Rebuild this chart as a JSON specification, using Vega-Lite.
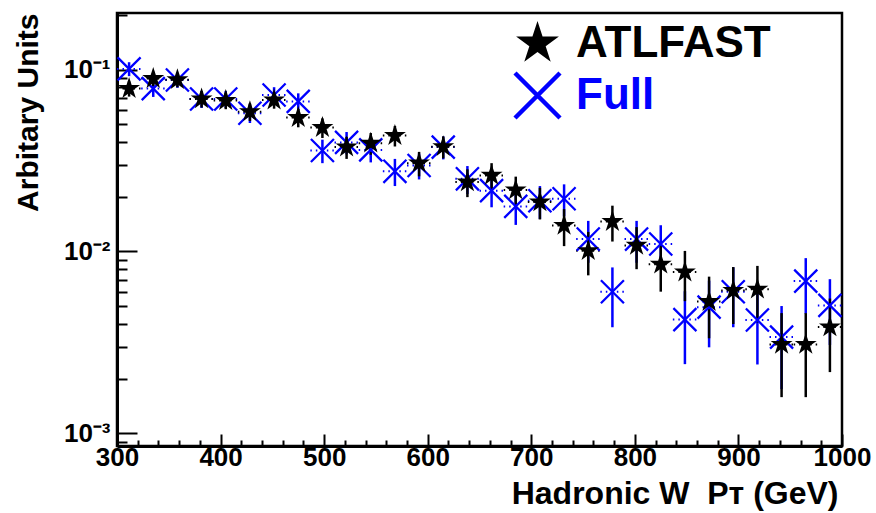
{
  "$schema": "https://vega.github.io/schema/vega-lite/v6.json",
  "width": 725,
  "height": 433,
  "autosize": {"type": "none"},
  "padding": {"left": 117, "top": 13, "right": 34, "bottom": 67},
  "background": "white",
  "config": {
    "font": "Liberation Sans",
    "view": {"stroke": "#000000", "strokeWidth": 2.5}
  },
  "data": {
    "values": [
      {"series": "Full", "pt": 311.67, "pt_lo": 300, "pt_hi": 323.33, "val": 0.101, "val_lo": 0.0921, "val_hi": 0.1099},
      {"series": "Full", "pt": 335, "pt_lo": 323.33, "pt_hi": 346.67, "val": 0.0787, "val_lo": 0.0708, "val_hi": 0.0866},
      {"series": "Full", "pt": 358.33, "pt_lo": 346.67, "pt_hi": 370, "val": 0.0878, "val_lo": 0.0795, "val_hi": 0.0961},
      {"series": "Full", "pt": 381.67, "pt_lo": 370, "pt_hi": 393.33, "val": 0.069, "val_lo": 0.0616, "val_hi": 0.0764},
      {"series": "Full", "pt": 405, "pt_lo": 393.33, "pt_hi": 416.67, "val": 0.069, "val_lo": 0.0616, "val_hi": 0.0764},
      {"series": "Full", "pt": 428.33, "pt_lo": 416.67, "pt_hi": 440, "val": 0.0576, "val_lo": 0.0509, "val_hi": 0.0643},
      {"series": "Full", "pt": 451.67, "pt_lo": 440, "pt_hi": 463.33, "val": 0.0726, "val_lo": 0.0651, "val_hi": 0.0801},
      {"series": "Full", "pt": 475, "pt_lo": 463.33, "pt_hi": 486.67, "val": 0.0669, "val_lo": 0.0597, "val_hi": 0.0741},
      {"series": "Full", "pt": 498.33, "pt_lo": 486.67, "pt_hi": 510, "val": 0.0359, "val_lo": 0.0306, "val_hi": 0.0412},
      {"series": "Full", "pt": 521.67, "pt_lo": 510, "pt_hi": 533.33, "val": 0.0398, "val_lo": 0.0342, "val_hi": 0.0454},
      {"series": "Full", "pt": 545, "pt_lo": 533.33, "pt_hi": 556.67, "val": 0.0362, "val_lo": 0.0309, "val_hi": 0.0415},
      {"series": "Full", "pt": 568.33, "pt_lo": 556.67, "pt_hi": 580, "val": 0.0276, "val_lo": 0.0229, "val_hi": 0.0323},
      {"series": "Full", "pt": 591.67, "pt_lo": 580, "pt_hi": 603.33, "val": 0.0297, "val_lo": 0.0249, "val_hi": 0.0345},
      {"series": "Full", "pt": 615, "pt_lo": 603.33, "pt_hi": 626.67, "val": 0.0375, "val_lo": 0.0321, "val_hi": 0.0429},
      {"series": "Full", "pt": 638.33, "pt_lo": 626.67, "pt_hi": 650, "val": 0.0251, "val_lo": 0.0207, "val_hi": 0.0295},
      {"series": "Full", "pt": 661.67, "pt_lo": 650, "pt_hi": 673.33, "val": 0.0216, "val_lo": 0.0175, "val_hi": 0.0257},
      {"series": "Full", "pt": 685, "pt_lo": 673.33, "pt_hi": 696.67, "val": 0.0177, "val_lo": 0.014, "val_hi": 0.0214},
      {"series": "Full", "pt": 708.33, "pt_lo": 696.67, "pt_hi": 720, "val": 0.019, "val_lo": 0.0151, "val_hi": 0.0229},
      {"series": "Full", "pt": 731.67, "pt_lo": 720, "pt_hi": 743.33, "val": 0.0195, "val_lo": 0.0156, "val_hi": 0.0234},
      {"series": "Full", "pt": 755, "pt_lo": 743.33, "pt_hi": 766.67, "val": 0.0117, "val_lo": 0.00867, "val_hi": 0.01473},
      {"series": "Full", "pt": 778.33, "pt_lo": 766.67, "pt_hi": 790, "val": 0.006, "val_lo": 0.00383, "val_hi": 0.00817},
      {"series": "Full", "pt": 801.67, "pt_lo": 790, "pt_hi": 813.33, "val": 0.0117, "val_lo": 0.00867, "val_hi": 0.01473},
      {"series": "Full", "pt": 825, "pt_lo": 813.33, "pt_hi": 836.67, "val": 0.011, "val_lo": 0.00806, "val_hi": 0.01394},
      {"series": "Full", "pt": 848.33, "pt_lo": 836.67, "pt_hi": 860, "val": 0.00422, "val_lo": 0.0024, "val_hi": 0.00604},
      {"series": "Full", "pt": 871.67, "pt_lo": 860, "pt_hi": 883.33, "val": 0.00494, "val_lo": 0.00297, "val_hi": 0.00691},
      {"series": "Full", "pt": 895, "pt_lo": 883.33, "pt_hi": 906.67, "val": 0.006, "val_lo": 0.00383, "val_hi": 0.00817},
      {"series": "Full", "pt": 918.33, "pt_lo": 906.67, "pt_hi": 930, "val": 0.0042, "val_lo": 0.00239, "val_hi": 0.00601},
      {"series": "Full", "pt": 941.67, "pt_lo": 930, "pt_hi": 953.33, "val": 0.00338, "val_lo": 0.00175, "val_hi": 0.00501},
      {"series": "Full", "pt": 965, "pt_lo": 953.33, "pt_hi": 976.67, "val": 0.00687, "val_lo": 0.00455, "val_hi": 0.00919},
      {"series": "Full", "pt": 988.33, "pt_lo": 976.67, "pt_hi": 1000, "val": 0.00505, "val_lo": 0.00306, "val_hi": 0.00704},
      {"series": "ATLFAST", "pt": 311.67, "pt_lo": 300, "pt_hi": 323.33, "val": 0.0787, "val_lo": 0.0711, "val_hi": 0.0863},
      {"series": "ATLFAST", "pt": 335, "pt_lo": 323.33, "pt_hi": 346.67, "val": 0.0893, "val_lo": 0.0812, "val_hi": 0.0974},
      {"series": "ATLFAST", "pt": 358.33, "pt_lo": 346.67, "pt_hi": 370, "val": 0.088, "val_lo": 0.08, "val_hi": 0.096},
      {"series": "ATLFAST", "pt": 381.67, "pt_lo": 370, "pt_hi": 393.33, "val": 0.069, "val_lo": 0.0619, "val_hi": 0.0761},
      {"series": "ATLFAST", "pt": 405, "pt_lo": 393.33, "pt_hi": 416.67, "val": 0.0676, "val_lo": 0.0606, "val_hi": 0.0746},
      {"series": "ATLFAST", "pt": 428.33, "pt_lo": 416.67, "pt_hi": 440, "val": 0.0587, "val_lo": 0.0522, "val_hi": 0.0652},
      {"series": "ATLFAST", "pt": 451.67, "pt_lo": 440, "pt_hi": 463.33, "val": 0.068, "val_lo": 0.061, "val_hi": 0.075},
      {"series": "ATLFAST", "pt": 475, "pt_lo": 463.33, "pt_hi": 486.67, "val": 0.0545, "val_lo": 0.0482, "val_hi": 0.0608},
      {"series": "ATLFAST", "pt": 498.33, "pt_lo": 486.67, "pt_hi": 510, "val": 0.048, "val_lo": 0.0421, "val_hi": 0.0539},
      {"series": "ATLFAST", "pt": 521.67, "pt_lo": 510, "pt_hi": 533.33, "val": 0.0375, "val_lo": 0.0323, "val_hi": 0.0427},
      {"series": "ATLFAST", "pt": 545, "pt_lo": 533.33, "pt_hi": 556.67, "val": 0.0394, "val_lo": 0.034, "val_hi": 0.0448},
      {"series": "ATLFAST", "pt": 568.33, "pt_lo": 556.67, "pt_hi": 580, "val": 0.0434, "val_lo": 0.0378, "val_hi": 0.049},
      {"series": "ATLFAST", "pt": 591.67, "pt_lo": 580, "pt_hi": 603.33, "val": 0.0306, "val_lo": 0.0259, "val_hi": 0.0353},
      {"series": "ATLFAST", "pt": 615, "pt_lo": 603.33, "pt_hi": 626.67, "val": 0.0377, "val_lo": 0.0325, "val_hi": 0.0429},
      {"series": "ATLFAST", "pt": 638.33, "pt_lo": 626.67, "pt_hi": 650, "val": 0.0241, "val_lo": 0.0199, "val_hi": 0.0283},
      {"series": "ATLFAST", "pt": 661.67, "pt_lo": 650, "pt_hi": 673.33, "val": 0.0262, "val_lo": 0.0218, "val_hi": 0.0306},
      {"series": "ATLFAST", "pt": 685, "pt_lo": 673.33, "pt_hi": 696.67, "val": 0.0218, "val_lo": 0.0178, "val_hi": 0.0258},
      {"series": "ATLFAST", "pt": 708.33, "pt_lo": 696.67, "pt_hi": 720, "val": 0.0187, "val_lo": 0.015, "val_hi": 0.0224},
      {"series": "ATLFAST", "pt": 731.67, "pt_lo": 720, "pt_hi": 743.33, "val": 0.0139, "val_lo": 0.0107, "val_hi": 0.0171},
      {"series": "ATLFAST", "pt": 755, "pt_lo": 743.33, "pt_hi": 766.67, "val": 0.0101, "val_lo": 0.00739, "val_hi": 0.01281},
      {"series": "ATLFAST", "pt": 778.33, "pt_lo": 766.67, "pt_hi": 790, "val": 0.0146, "val_lo": 0.01134, "val_hi": 0.01786},
      {"series": "ATLFAST", "pt": 801.67, "pt_lo": 790, "pt_hi": 813.33, "val": 0.0108, "val_lo": 0.00799, "val_hi": 0.01361},
      {"series": "ATLFAST", "pt": 825, "pt_lo": 813.33, "pt_hi": 836.67, "val": 0.0085, "val_lo": 0.00601, "val_hi": 0.01099},
      {"series": "ATLFAST", "pt": 848.33, "pt_lo": 836.67, "pt_hi": 860, "val": 0.0077, "val_lo": 0.00533, "val_hi": 0.01007},
      {"series": "ATLFAST", "pt": 871.67, "pt_lo": 860, "pt_hi": 883.33, "val": 0.0053, "val_lo": 0.00333, "val_hi": 0.00727},
      {"series": "ATLFAST", "pt": 895, "pt_lo": 883.33, "pt_hi": 906.67, "val": 0.0061, "val_lo": 0.00399, "val_hi": 0.00821},
      {"series": "ATLFAST", "pt": 918.33, "pt_lo": 906.67, "pt_hi": 930, "val": 0.0062, "val_lo": 0.00407, "val_hi": 0.00833},
      {"series": "ATLFAST", "pt": 941.67, "pt_lo": 930, "pt_hi": 953.33, "val": 0.00308, "val_lo": 0.00158, "val_hi": 0.00458},
      {"series": "ATLFAST", "pt": 965, "pt_lo": 953.33, "pt_hi": 976.67, "val": 0.00308, "val_lo": 0.00158, "val_hi": 0.00458},
      {"series": "ATLFAST", "pt": 988.33, "pt_lo": 976.67, "pt_hi": 1000, "val": 0.00384, "val_lo": 0.00217, "val_hi": 0.00551}
    ]
  },
  "encoding": {
    "color": {
      "field": "series",
      "type": "nominal",
      "scale": {"domain": ["ATLFAST", "Full"], "range": ["#000000", "#0000ff"]},
      "legend": {
        "orient": "none",
        "legendX": 398,
        "legendY": 8,
        "title": null,
        "symbolSize": 2025,
        "symbolStrokeWidth": 0,
        "labelFont": "Liberation Sans",
        "labelFontWeight": "bold",
        "labelFontSize": 44,
        "labelOffset": 16,
        "labelLimit": 400,
        "rowPadding": 5,
        "labelColor": {"expr": "datum.value === 'Full' ? '#0000ff' : '#000000'"},
        "encode": {
          "symbols": {"update": {"shape": {"signal": "datum.value === 'Full' ? 'M-0.965,-1.035L1.035,0.965L0.965,1.035L-1.035,-0.965ZM-1.035,0.965L0.965,-1.035L1.035,-0.965L-0.965,1.035Z' : 'M0,-1L0.2245,-0.309L0.951,-0.309L0.363,0.118L0.588,0.809L0,0.382L-0.588,0.809L-0.363,0.118L-0.951,-0.309L-0.2245,-0.309Z'"}}}
        }
      }
    }
  },
  "resolve": {"axis": {"x": "independent", "y": "independent"}},
  "layer": [
    {
      "mark": {"type": "rule", "strokeWidth": 2.5},
      "encoding": {
        "x": {
          "field": "pt",
          "type": "quantitative",
          "scale": {"domain": [300, 1000], "nice": false, "zero": false},
          "axis": {
            "orient": "bottom",
            "values": [300, 400, 500, 600, 700, 800, 900, 1000],
            "format": "d",
            "grid": false,
            "domainColor": "#000000",
            "domainWidth": 3,
            "tickColor": "#000000",
            "tickWidth": 2,
            "tickSize": -12,
            "labelFont": "Liberation Sans",
            "labelFontWeight": "bold",
            "labelFontSize": 26,
            "labelColor": "#000000",
            "labelPadding": 10,
            "labelFlush": false,
            "labelOverlap": false,
            "title": "Hadronic W\u00a0\u00a0P\u1d1b (GeV)",
            "titleFont": "Liberation Sans",
            "titleFontWeight": "bold",
            "titleFontSize": 32,
            "titleColor": "#000000",
            "titleAnchor": "end",
            "titleAlign": "right",
            "titleX": 721,
            "titleY": 57,
            "titleBaseline": "alphabetic"
          }
        },
        "y": {
          "field": "val_lo",
          "type": "quantitative",
          "scale": {"type": "log", "domain": [0.000851, 0.205], "nice": false},
          "axis": {
            "orient": "left",
            "values": [0.001, 0.01, 0.1],
            "labelExpr": "datum.value > 0.05 ? '10\u207b\u00b9' : (datum.value > 0.005 ? '10\u207b\u00b2' : '10\u207b\u00b3')",
            "grid": false,
            "domainColor": "#000000",
            "domainWidth": 3,
            "tickColor": "#000000",
            "tickWidth": 2,
            "tickSize": -20,
            "labelFont": "Liberation Sans",
            "labelFontWeight": "bold",
            "labelFontSize": 26,
            "labelColor": "#000000",
            "labelPadding": 27,
            "labelFlush": false,
            "labelOverlap": false,
            "title": "Arbitary Units",
            "titleFont": "Liberation Sans",
            "titleFontWeight": "bold",
            "titleFontSize": 30,
            "titleColor": "#000000",
            "titleAngle": -90,
            "titleAlign": "right",
            "titleBaseline": "middle",
            "titleX": -89,
            "titleY": 0
          }
        },
        "y2": {"field": "val_hi"}
      }
    },
    {
      "mark": {"type": "rule", "strokeWidth": 2, "strokeDash": [1.5, 4]},
      "encoding": {
        "x": {
          "field": "pt_lo",
          "type": "quantitative",
          "axis": {
            "orient": "bottom",
            "values": [320, 340, 360, 380, 420, 440, 460, 480, 520, 540, 560, 580, 620, 640, 660, 680, 720, 740, 760, 780, 820, 840, 860, 880, 920, 940, 960, 980],
            "labels": false,
            "domain": false,
            "grid": false,
            "tickColor": "#000000",
            "tickWidth": 2,
            "tickSize": -6,
            "title": null
          }
        },
        "x2": {"field": "pt_hi"},
        "y": {
          "field": "val",
          "type": "quantitative",
          "axis": {
            "orient": "left",
            "values": [0.0009, 0.002, 0.003, 0.004, 0.005, 0.006, 0.007, 0.008, 0.009, 0.02, 0.03, 0.04, 0.05, 0.06, 0.07, 0.08, 0.09, 0.2],
            "labels": false,
            "domain": false,
            "grid": false,
            "tickColor": "#000000",
            "tickWidth": 2,
            "tickSize": -10,
            "title": null
          }
        }
      }
    },
    {
      "mark": {"type": "point", "filled": true, "opacity": 1, "size": 530},
      "encoding": {
        "x": {"field": "pt", "type": "quantitative", "axis": null},
        "y": {"field": "val", "type": "quantitative", "axis": null},
        "shape": {
          "field": "series",
          "type": "nominal",
          "scale": {
            "domain": ["ATLFAST", "Full"],
            "range": [
              "M0,-1L0.2245,-0.309L0.951,-0.309L0.363,0.118L0.588,0.809L0,0.382L-0.588,0.809L-0.363,0.118L-0.951,-0.309L-0.2245,-0.309Z",
              "M-0.93,-1.07L1.07,0.93L0.93,1.07L-1.07,-0.93ZM-1.07,0.93L0.93,-1.07L1.07,-0.93L-0.93,1.07Z"
            ]
          }
        }
      }
    }
  ]
}
